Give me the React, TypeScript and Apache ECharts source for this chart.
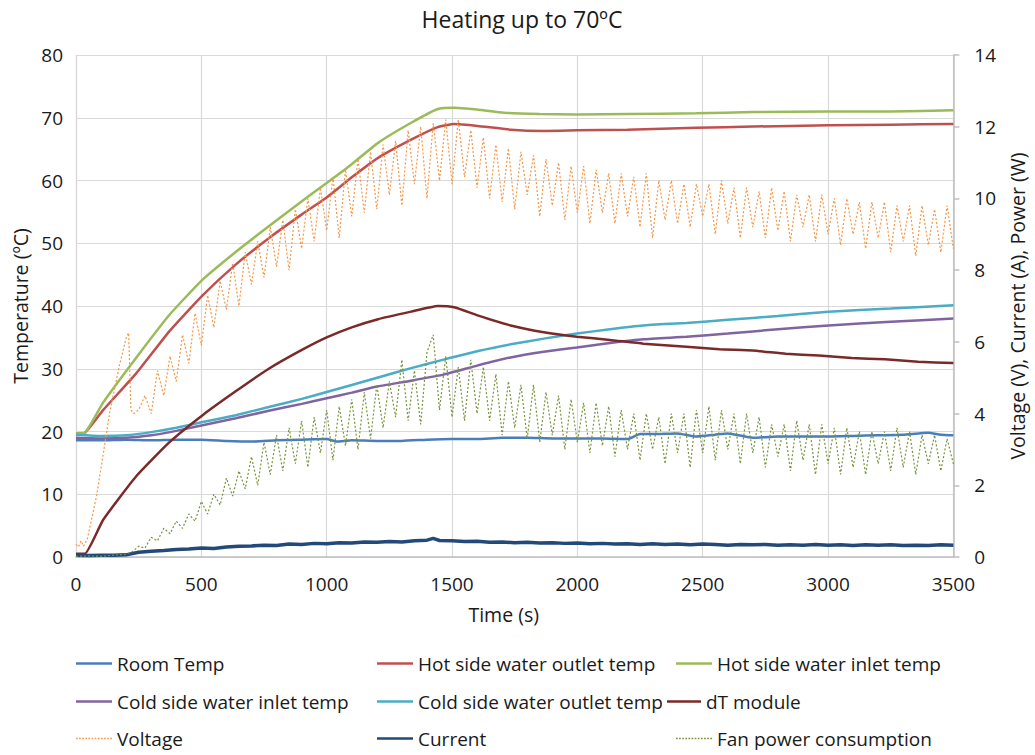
import React, { useEffect, useRef } from "react";
import * as echarts from "echarts";

const FONT = '"Open Sans", Lato, sans-serif';

const titleText = "Heating up to 70ºC";
const xTicks = { min: 0, max: 3500, interval: 500 };
const tempTicks = { min: 0, max: 80, interval: 10 };
const elecTicks = { min: 0, max: 14, interval: 2 };

const roomTemp = [[0,18.6],[100,18.6],[200,18.7],[300,18.6],[400,18.7],[500,18.7],[600,18.5],[700,18.4],[800,18.6],[900,18.7],[1000,18.8],[1040,18.4],[1100,18.6],[1200,18.5],[1300,18.5],[1400,18.7],[1500,18.8],[1600,18.8],[1700,19.0],[1800,19.0],[1900,18.9],[2000,18.9],[2100,18.9],[2200,18.8],[2250,19.6],[2300,19.6],[2400,19.7],[2474,19.2],[2550,19.5],[2600,19.7],[2700,19.0],[2800,19.2],[2900,19.2],[3000,19.2],[3100,19.3],[3200,19.4],[3300,19.5],[3400,19.8],[3450,19.5],[3500,19.4]];
const hotOutlet = [[0,19.7],[35,19.8],[108,23.4],[241,29.3],[373,36.0],[505,41.7],[637,46.6],[769,50.8],[901,54.6],[1000,57.3],[1100,60.5],[1205,63.6],[1337,66.5],[1443,68.5],[1509,69.0],[1602,68.7],[1734,68.1],[1866,67.9],[1998,68.0],[2200,68.1],[2474,68.4],[2700,68.6],[3003,68.8],[3250,68.9],[3500,69.0]];
const hotInlet = [[0,19.7],[35,19.8],[108,24.6],[241,31.8],[373,38.6],[505,44.2],[637,48.6],[769,52.7],[901,56.7],[1000,59.6],[1100,62.6],[1205,66.0],[1337,69.2],[1443,71.4],[1509,71.6],[1600,71.3],[1708,70.8],[1850,70.6],[1998,70.5],[2200,70.6],[2474,70.7],[2700,70.9],[3003,71.0],[3250,71.0],[3500,71.2]];
const coldInlet = [[0,19.0],[100,18.9],[200,19.0],[300,19.4],[400,20.1],[505,21.0],[637,22.1],[769,23.3],[901,24.4],[1000,25.3],[1100,26.2],[1205,27.2],[1337,28.1],[1470,29.1],[1600,30.5],[1734,31.8],[1866,32.7],[1998,33.4],[2130,34.1],[2263,34.7],[2435,35.1],[2600,35.6],[2800,36.3],[3003,36.9],[3250,37.5],[3500,38.0]];
const coldOutlet = [[0,19.5],[100,19.3],[200,19.4],[300,19.9],[400,20.6],[505,21.5],[637,22.6],[769,23.9],[901,25.2],[1000,26.3],[1100,27.4],[1205,28.6],[1337,30.1],[1470,31.5],[1600,32.8],[1734,33.9],[1866,34.8],[1998,35.6],[2130,36.3],[2263,36.9],[2435,37.3],[2600,37.8],[2800,38.4],[3003,39.1],[3250,39.6],[3500,40.1]];
const dTModule = [[0,0.5],[35,0.5],[108,5.9],[241,12.9],[373,18.3],[505,22.6],[637,26.4],[769,30.0],[901,33.0],[1000,35.0],[1100,36.6],[1205,37.9],[1337,39.1],[1443,40.0],[1509,39.8],[1602,38.5],[1734,36.9],[1866,35.8],[1998,35.1],[2130,34.6],[2263,34.0],[2435,33.5],[2567,33.1],[2699,32.9],[2831,32.4],[2963,32.1],[3095,31.7],[3227,31.5],[3359,31.1],[3500,30.9]];

// Voltage: start-up segment, then samples every 25 s from 250 s
const voltageStart = [[0,0.35],[10,0.28],[20,0.45],[30,0.3],[45,0.5],[82,1.7],[135,4.05],[174,5.37],[201,6.13],[210,6.25],[219,4.1],[230,4.0]];
const voltageFrom = 250;
const voltageValues = [4.1,4.5,4.0,5.2,4.5,5.6,4.9,6.2,5.4,6.8,5.9,7.3,6.4,7.7,6.9,8.2,7.0,8.5,7.6,8.8,7.8,9.2,8.1,9.4,8.0,9.7,8.6,10.0,8.8,10.3,9.1,10.6,8.9,10.8,9.5,11.1,9.6,11.3,9.7,11.5,10.1,11.6,9.8,11.9,10.4,12.0,10.0,12.1,10.5,12.2,10.4,12.2,10.6,11.9,10.3,11.7,10.0,11.5,9.9,11.4,9.7,11.3,10.1,11.2,9.5,11.1,9.8,11.0,9.4,10.9,9.6,10.9,9.3,10.8,9.6,10.7,9.3,10.7,9.5,10.6,9.2,10.7,8.9,10.5,9.4,10.5,9.3,10.4,9.2,10.4,9.5,10.4,9.0,10.5,9.3,10.3,8.9,10.3,9.2,10.2,8.9,10.3,9.1,10.2,8.8,10.1,9.2,10.1,8.8,10.1,9.0,10.0,8.7,10.0,9.0,9.9,8.6,9.9,8.9,9.9,8.5,9.8,8.8,9.8,8.4,9.8,8.7,9.7,8.5,9.8,8.6];

const currentValues = [[0,0.05],[50,0.04],[100,0.05],[150,0.05],[200,0.06],[250,0.13],[300,0.16],[350,0.18],[400,0.21],[450,0.22],[500,0.25],[550,0.24],[600,0.28],[650,0.3],[700,0.31],[750,0.33],[800,0.32],[850,0.36],[900,0.35],[950,0.38],[1000,0.37],[1050,0.4],[1100,0.39],[1150,0.42],[1200,0.41],[1250,0.43],[1300,0.42],[1350,0.45],[1400,0.47],[1425,0.52],[1450,0.46],[1500,0.45],[1550,0.43],[1600,0.44],[1650,0.41],[1700,0.42],[1750,0.4],[1800,0.41],[1850,0.39],[1900,0.4],[1950,0.38],[2000,0.39],[2050,0.37],[2100,0.38],[2150,0.36],[2200,0.37],[2250,0.35],[2300,0.37],[2350,0.35],[2400,0.36],[2450,0.34],[2500,0.36],[2550,0.35],[2600,0.33],[2650,0.35],[2700,0.34],[2750,0.35],[2800,0.33],[2850,0.34],[2900,0.33],[2950,0.35],[3000,0.33],[3050,0.34],[3100,0.32],[3150,0.34],[3200,0.33],[3250,0.34],[3300,0.32],[3350,0.33],[3400,0.32],[3450,0.34],[3500,0.33]];

// Fan power: start-up segment, then samples every 25 s from 225 s
const fanStart = [[0,0.02],[50,0.03],[100,0.02],[150,0.05],[200,0.08]];
const fanFrom = 225;
const fanValues = [0.15,0.3,0.25,0.55,0.45,0.8,0.65,1.0,0.8,1.2,1.0,1.55,1.2,1.75,1.45,2.2,1.7,2.4,1.9,2.8,2.0,3.2,2.3,3.4,2.4,3.6,2.6,3.8,2.5,3.9,2.9,4.1,2.7,4.2,3.1,4.4,3.0,4.6,3.3,4.8,3.6,4.9,3.9,5.5,3.8,5.2,3.7,5.7,6.2,4.1,5.6,3.9,5.3,3.8,5.5,4.0,5.3,3.8,5.1,3.4,4.9,3.6,4.8,3.3,4.8,3.2,4.6,3.4,4.5,3.0,4.4,3.2,4.3,2.9,4.3,3.1,4.2,2.8,4.1,3.0,4.0,2.7,4.0,3.0,3.9,2.6,4.0,2.9,4.0,2.5,4.1,2.9,4.2,2.7,4.1,3.0,4.0,2.6,4.0,2.9,3.9,2.5,3.7,2.8,3.7,2.4,3.8,2.7,3.7,2.3,3.7,2.6,3.6,2.3,3.6,2.5,3.5,2.3,3.5,2.6,3.5,2.4,3.6,2.5,3.5,2.3,3.4,2.6,3.4,2.4,3.3,2.6];

const names = [
  "Room Temp",
  "Hot side water outlet temp",
  "Hot side water inlet temp",
  "Cold side water inlet temp",
  "Cold side water outlet temp",
  "dT module",
  "Voltage",
  "Current",
  "Fan power consumption",
];
const colors = ["#4a7ebb", "#c0504d", "#9bbb59", "#8064a2", "#4bacc6", "#7a2a28", "#f79646", "#23497a", "#77933c"];

function dottedIcon(): string {
  let d = "path://";
  for (let x = 0; x < 36; x += 3) d += `M${x} 0h1.6v1.4h-1.6z `;
  return d.trim();
}

export default function App() {
  const ref = useRef<HTMLDivElement>(null);
  useEffect(() => {
    if (!ref.current) return;
    const chart = echarts.init(ref.current, undefined, { renderer: "svg" });
    const voltage = voltageStart.concat(voltageValues.map((v, i) => [voltageFrom + i * 25, v]));
    const fan = fanStart.concat(fanValues.map((v, i) => [fanFrom + i * 25, v]));
    const tempData = [roomTemp, hotOutlet, hotInlet, coldInlet, coldOutlet, dTModule];

    const series: any[] = [];
    tempData.forEach((d, i) => {
      series.push({
        name: names[i], type: "line", yAxisIndex: 0, data: d, symbol: "none",
        smooth: 0.15,
        lineStyle: { color: colors[i], width: 2.5 }, itemStyle: { color: colors[i] },
      });
    });
    series.push({
      name: names[6], type: "line", yAxisIndex: 1, data: voltage, symbol: "none",
      lineStyle: { color: colors[6], width: 1.2, type: [2, 2] }, itemStyle: { color: colors[6] },
    });
    series.push({
      name: names[7], type: "line", yAxisIndex: 1, data: currentValues, symbol: "none",
      lineStyle: { color: colors[7], width: 3.5 }, itemStyle: { color: colors[7] },
    });
    series.push({
      name: names[8], type: "line", yAxisIndex: 1, data: fan, symbol: "none",
      lineStyle: { color: colors[8], width: 1.2, type: [2, 2] }, itemStyle: { color: colors[8] },
    });

    const solidIcon = "path://M0 0H36V2.4H0Z";
    const dotIcon = dottedIcon();
    const legendPos = [
      [76, 654], [377, 654], [676, 654],
      [76, 692], [377, 692], [667, 692],
      [76, 729], [377, 729], [676, 729],
    ];
    const legends = names.map((n, i) => ({
      data: [n], left: legendPos[i][0], top: legendPos[i][1], orient: "horizontal",
      icon: i === 6 || i === 8 ? dotIcon : solidIcon,
      itemWidth: i === 5 ? 34 : 36, itemHeight: 14, itemGap: 0, padding: 0, selectedMode: false,
      textStyle: { fontSize: 19, fontFamily: FONT, color: "#1a1a1a" },
    }));

    const plain = (v: number) => String(v);

    chart.setOption({
      animation: false,
      backgroundColor: "#ffffff",
      title: {
        text: titleText, left: 517, textAlign: "center", top: 2,
        textStyle: { fontSize: 23, fontWeight: "normal", fontFamily: FONT, color: "#1a1a1a" },
      },
      legend: legends,
      grid: { left: 76, right: 75, top: 55, bottom: 198 },
      xAxis: {
        type: "value", ...xTicks,
        name: "Time (s)", nameLocation: "middle", nameGap: 47,
        nameTextStyle: { fontSize: 19.5, fontFamily: FONT, color: "#1a1a1a", padding: [0, 22, 0, 0] },
        axisLine: { show: true, lineStyle: { color: "#bfbfbf", width: 1.5 } },
        axisTick: { show: false },
        axisLabel: { fontSize: 19, fontFamily: FONT, color: "#1a1a1a", margin: 17, formatter: plain },
        splitLine: { show: true, lineStyle: { color: "#d9d9d9", width: 1.2 } },
      },
      yAxis: [
        {
          type: "value", ...tempTicks, position: "left",
          name: "Temperature (ºC)", nameLocation: "middle", nameGap: 44, nameRotate: 90,
          nameTextStyle: { fontSize: 19.5, fontFamily: FONT, color: "#1a1a1a" },
          axisLine: { show: true, lineStyle: { color: "#d9d9d9", width: 1.2 } },
          axisTick: { show: false },
          axisLabel: { fontSize: 19, fontFamily: FONT, color: "#1a1a1a", margin: 13, formatter: plain },
          splitLine: { show: true, lineStyle: { color: "#d9d9d9", width: 1.2 } },
        },
        {
          type: "value", ...elecTicks, position: "right",
          name: "Voltage (V), Current (A), Power (W)", nameLocation: "middle", nameGap: 49, nameRotate: 90,
          nameTextStyle: { fontSize: 19.5, fontFamily: FONT, color: "#1a1a1a" },
          axisLine: { show: true, lineStyle: { color: "#bfbfbf", width: 1.5 } },
          axisTick: { show: true, inside: false, length: 6, lineStyle: { color: "#bfbfbf", width: 1.5 } },
          axisLabel: { fontSize: 19, fontFamily: FONT, color: "#1a1a1a", margin: 21, formatter: plain },
          splitLine: { show: false },
        },
      ],
      series,
    });
    return () => chart.dispose();
  }, []);
  return <div ref={ref} style={{ width: 1035, height: 755, position: "absolute", left: 0, top: 0 }} />;
}
